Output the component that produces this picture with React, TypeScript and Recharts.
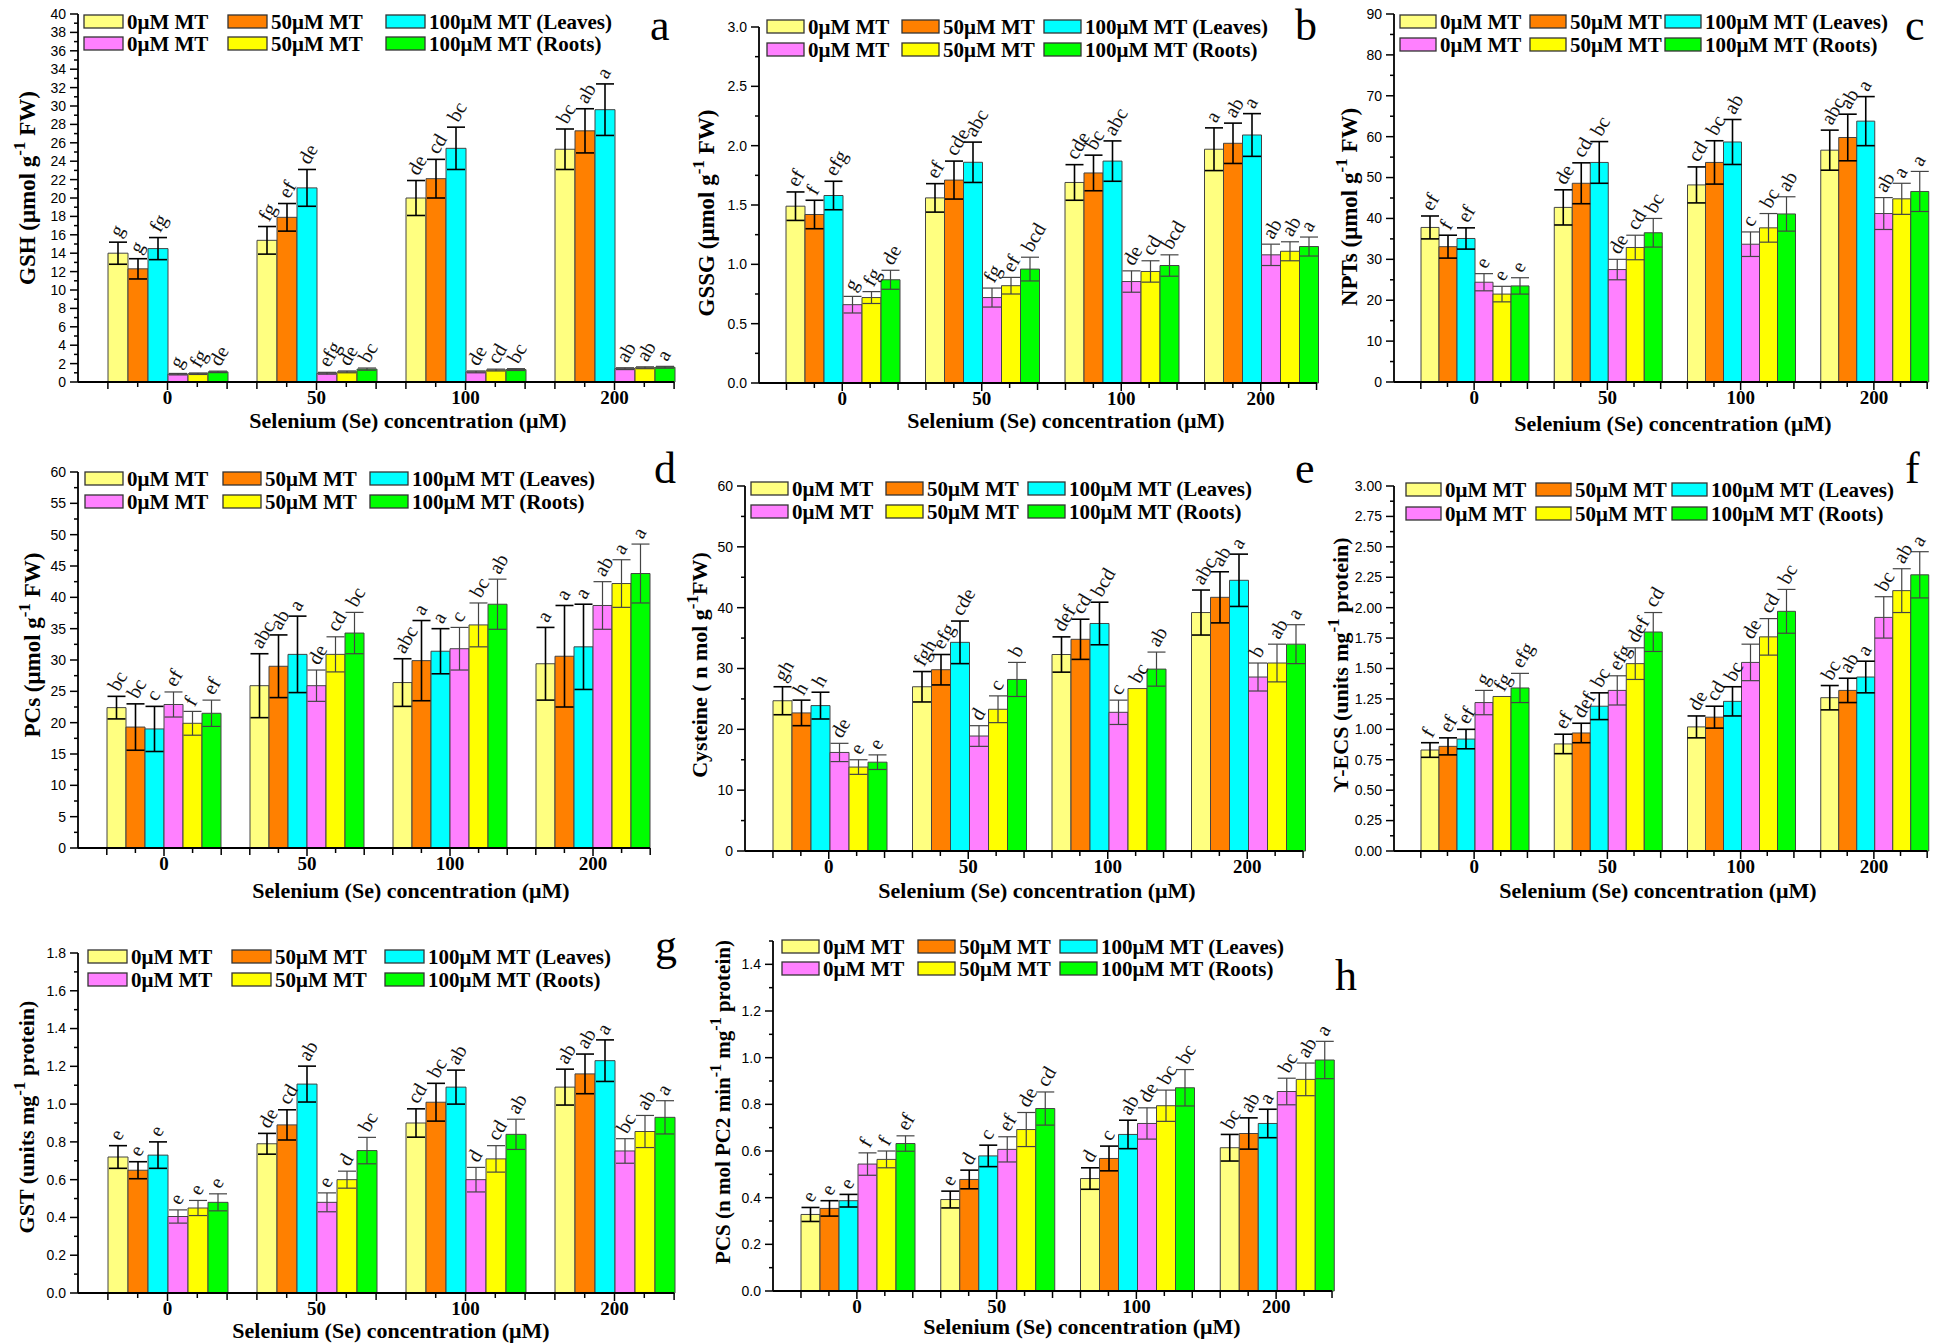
import React from "react";
import { BarChart, Bar, XAxis, YAxis, ErrorBar, LabelList } from "recharts";

const seLevels = ["0", "50", "100", "200"];
const seriesFill = ["#ffff80", "#ff8000", "#00ffff", "#ff80ff", "#ffff00", "#00ff00"];
const legendRow1 = ["0μM MT", "50μM MT", "100μM MT (Leaves)"];
const legendRow2 = ["0μM MT", "50μM MT", "100μM MT (Roots)"];

// rows: leaves 0/50/100 µM MT, roots 0/50/100 µM MT; columns: Se 0/50/100/200
const gshMeans = [
  [14.0, 15.4, 20.0, 25.3],
  [12.3, 17.9, 22.1, 27.3],
  [14.5, 21.1, 25.4, 29.6],
  [0.85, 0.95, 1.1, 1.45],
  [0.9, 1.1, 1.3, 1.55],
  [1.1, 1.4, 1.35, 1.6],
];
const gshErrors = [
  [1.2, 1.5, 1.9, 2.2],
  [1.1, 1.5, 2.1, 2.4],
  [1.2, 2.0, 2.3, 2.8],
  [0.08, 0.1, 0.1, 0.1],
  [0.08, 0.1, 0.1, 0.1],
  [0.08, 0.12, 0.1, 0.1],
];
const gshLetters = [
  ["g", "fg", "de", "bc"],
  ["g", "ef", "cd", "ab"],
  ["fg", "de", "bc", "a"],
  ["g", "efg", "de", "ab"],
  ["fg", "de", "cd", "ab"],
  ["de", "bc", "bc", "a"],
];

const gssgMeans = [
  [1.49, 1.56, 1.69, 1.97],
  [1.42, 1.71, 1.77, 2.02],
  [1.58, 1.86, 1.87, 2.09],
  [0.66, 0.72, 0.855, 1.08],
  [0.72, 0.82, 0.94, 1.11],
  [0.87, 0.96, 0.99, 1.15],
];
const gssgErrors = [
  [0.12, 0.12, 0.15, 0.18],
  [0.12, 0.16, 0.15, 0.17],
  [0.12, 0.17, 0.17, 0.18],
  [0.07, 0.08, 0.09, 0.09],
  [0.05, 0.07, 0.09, 0.08],
  [0.08, 0.1, 0.09, 0.08],
];
const gssgLetters = [
  ["ef", "ef", "cde", "a"],
  ["f", "cde", "bc", "ab"],
  ["efg", "abc", "abc", "a"],
  ["g", "fg", "de", "ab"],
  ["fg", "ef", "cd", "ab"],
  ["de", "bcd", "bcd", "a"],
];

const nptMeans = [
  [37.8, 42.7, 48.2, 56.7],
  [33.1, 48.6, 53.7, 59.8],
  [35.1, 53.7, 58.7, 63.8],
  [24.4, 27.5, 33.7, 41.2],
  [21.5, 32.9, 37.7, 44.8],
  [23.5, 36.5, 41.1, 46.6],
];
const nptErrors = [
  [2.8, 4.3, 4.4, 4.9],
  [2.8, 5.0, 5.3, 5.7],
  [2.6, 5.1, 5.5, 6.0],
  [2.1, 2.5, 3.0, 3.9],
  [1.9, 3.0, 3.5, 3.8],
  [2.0, 3.5, 4.2, 4.9],
];
const nptLetters = [
  ["ef", "de", "cd", "abc"],
  ["f", "cd", "bc", "ab"],
  ["ef", "bc", "ab", "a"],
  ["e", "de", "c", "ab"],
  ["e", "cd", "bc", "a"],
  ["e", "bc", "ab", "a"],
];

const pcsMeans = [
  [22.4, 25.9, 26.4, 29.4],
  [19.3, 29.0, 29.9, 30.6],
  [19.0, 30.9, 31.4, 32.1],
  [22.9, 25.9, 31.8, 38.7],
  [19.9, 30.9, 35.6, 42.2],
  [21.5, 34.3, 38.9, 43.8],
];
const pcsErrors = [
  [1.8, 5.1, 3.8, 5.8],
  [3.7, 5.0, 6.4, 8.1],
  [3.6, 6.1, 3.6, 6.8],
  [2.0, 2.5, 3.4, 3.8],
  [1.9, 2.8, 3.5, 3.8],
  [2.1, 3.3, 4.0, 4.7],
];
const pcsLetters = [
  ["bc", "abc", "abc", "a"],
  ["bc", "ab", "a", "a"],
  ["c", "a", "a", "a"],
  ["ef", "de", "c", "ab"],
  ["f", "cd", "bc", "a"],
  ["ef", "bc", "ab", "a"],
];

const cysMeans = [
  [24.7, 27.0, 32.3, 39.2],
  [22.7, 29.8, 34.8, 41.7],
  [23.9, 34.3, 37.4, 44.5],
  [16.2, 18.9, 22.8, 28.6],
  [13.8, 23.3, 26.7, 30.9],
  [14.6, 28.2, 29.9, 34.0],
];
const cysErrors = [
  [2.3, 2.5, 2.9, 3.7],
  [2.1, 2.5, 3.3, 4.2],
  [2.2, 3.5, 3.5, 4.3],
  [1.5, 1.7, 2.0, 2.3],
  [1.2, 2.2, 0, 3.1],
  [1.2, 2.8, 2.8, 3.2],
];
const cysLetters = [
  ["gh", "fgh", "def", "abc"],
  ["h", "efg", "cd", "ab"],
  ["h", "cde", "bcd", "a"],
  ["de", "d", "c", "b"],
  ["e", "c", "bc", "ab"],
  ["e", "b", "ab", "a"],
];

const ecsMeans = [
  [0.83, 0.88, 1.02, 1.26],
  [0.86, 0.97, 1.1, 1.32],
  [0.92, 1.19, 1.23, 1.43],
  [1.22, 1.32, 1.55, 1.92],
  [1.27, 1.54, 1.76, 2.14],
  [1.34, 1.8, 1.97, 2.27],
];
const ecsErrors = [
  [0.06, 0.08, 0.09, 0.1],
  [0.07, 0.08, 0.09, 0.1],
  [0.08, 0.11, 0.12, 0.13],
  [0.1, 0.12, 0.15, 0.17],
  [0, 0.13, 0.15, 0.18],
  [0.12, 0.16, 0.18, 0.19],
];
const ecsLetters = [
  ["f", "ef", "de", "bc"],
  ["ef", "def", "cd", "ab"],
  ["ef", "bc", "bc", "a"],
  ["g", "efg", "de", "bc"],
  ["fg", "def", "cd", "ab"],
  ["efg", "cd", "bc", "a"],
];

const gstMeans = [
  [0.72, 0.79, 0.9, 1.09],
  [0.65, 0.89, 1.01, 1.16],
  [0.73, 1.106, 1.09, 1.23],
  [0.405, 0.48, 0.6, 0.752],
  [0.45, 0.6, 0.71, 0.855],
  [0.48, 0.754, 0.84, 0.93],
];
const gstErrors = [
  [0.06, 0.055, 0.075, 0.095],
  [0.045, 0.08, 0.1, 0.105],
  [0.07, 0.095, 0.09, 0.11],
  [0.035, 0.05, 0.065, 0.065],
  [0.04, 0.045, 0.07, 0.085],
  [0.045, 0.07, 0.08, 0.088],
];
const gstLetters = [
  ["e", "de", "cd", "ab"],
  ["e", "cd", "bc", "ab"],
  ["e", "ab", "ab", "a"],
  ["e", "e", "d", "bc"],
  ["e", "d", "cd", "ab"],
  ["e", "bc", "ab", "a"],
];

const pcsEnzMeans = [
  [0.328, 0.392, 0.482, 0.614],
  [0.354, 0.478, 0.568, 0.675],
  [0.387, 0.579, 0.671, 0.718],
  [0.544, 0.607, 0.718, 0.855],
  [0.564, 0.692, 0.794, 0.907],
  [0.632, 0.782, 0.871, 0.99],
];
const pcsEnzErrors = [
  [0.03, 0.036, 0.046, 0.057],
  [0.033, 0.04, 0.053, 0.067],
  [0.027, 0.046, 0.061, 0.061],
  [0.048, 0.054, 0.067, 0.057],
  [0.036, 0.073, 0.067, 0.07],
  [0.033, 0.071, 0.078, 0.08],
];
const pcsEnzLetters = [
  ["e", "e", "d", "bc"],
  ["e", "d", "c", "ab"],
  ["e", "c", "ab", "a"],
  ["f", "ef", "de", "bc"],
  ["f", "de", "bc", "ab"],
  ["ef", "cd", "bc", "a"],
];

const SERIF = "'Liberation Serif', 'Times New Roman', serif";
const SANS = "'Liberation Sans', Arial, sans-serif";

type Seg = { t: string; sup?: boolean };
type PanelDef = {
  id: string;
  xL: number; xR: number; yT: number; yB: number; gap: number;
  yMax: number; major: number; minor: number; dec: number;
  means: number[][]; errs: number[][]; letters: string[][];
  yTitle: Seg[]; yTitleX: number; yTitleY: number; yTitleSize: number;
  xTitleX: number; xTitleY: number;
  legCols: number[]; legRows: number[]; legBox: number;
  tagX: number; tagY: number;
};

const panels: PanelDef[] = [
  {
    id: "a", xL: 78, xR: 674, yT: 14, yB: 382, gap: 30, yMax: 40, major: 2, minor: 1, dec: 0,
    means: gshMeans, errs: gshErrors, letters: gshLetters,
    yTitle: [{ t: "GSH (μmol g" }, { t: "-1", sup: true }, { t: " FW)" }], yTitleX: 27, yTitleY: 188, yTitleSize: 23,
    xTitleX: 408, xTitleY: 428, legCols: [84, 228, 386], legRows: [15, 37], legBox: 39, tagX: 650, tagY: 40,
  },
  {
    id: "b", xL: 759, xR: 1317, yT: 27, yB: 383, gap: 27, yMax: 3, major: 0.5, minor: 0.25, dec: 1,
    means: gssgMeans, errs: gssgErrors, letters: gssgLetters,
    yTitle: [{ t: "GSSG (μmol g" }, { t: "-1", sup: true }, { t: " FW)" }], yTitleX: 706, yTitleY: 213, yTitleSize: 23,
    xTitleX: 1066, xTitleY: 428, legCols: [767, 902, 1044], legRows: [20, 43], legBox: 37, tagX: 1295, tagY: 40,
  },
  {
    id: "c", xL: 1394, xR: 1927, yT: 14, yB: 382, gap: 27, yMax: 90, major: 10, minor: 5, dec: 0,
    means: nptMeans, errs: nptErrors, letters: nptLetters,
    yTitle: [{ t: "NPTs (μmol g" }, { t: "-1", sup: true }, { t: " FW)" }], yTitleX: 1349, yTitleY: 207, yTitleSize: 23,
    xTitleX: 1673, xTitleY: 431, legCols: [1400, 1530, 1665], legRows: [15, 38], legBox: 36, tagX: 1905, tagY: 40,
  },
  {
    id: "d", xL: 78, xR: 650, yT: 472, yB: 848, gap: 29, yMax: 60, major: 5, minor: 2.5, dec: 0,
    means: pcsMeans, errs: pcsErrors, letters: pcsLetters,
    yTitle: [{ t: "PCs (μmol g" }, { t: "-1", sup: true }, { t: " FW)" }], yTitleX: 32, yTitleY: 645, yTitleSize: 23,
    xTitleX: 411, xTitleY: 898, legCols: [85, 223, 370], legRows: [472, 495], legBox: 38, tagX: 654, tagY: 483,
  },
  {
    id: "e", xL: 745, xR: 1303, yT: 486, yB: 851, gap: 28, yMax: 60, major: 10, minor: 5, dec: 0,
    means: cysMeans, errs: cysErrors, letters: cysLetters,
    yTitle: [{ t: "Cysteine ( n mol g" }, { t: "-1", sup: true }, { t: "FW)" }], yTitleX: 700, yTitleY: 665, yTitleSize: 22,
    xTitleX: 1037, xTitleY: 898, legCols: [751, 886, 1028], legRows: [482, 505], legBox: 37, tagX: 1295, tagY: 483,
  },
  {
    id: "f", xL: 1394, xR: 1927, yT: 486, yB: 851, gap: 27, yMax: 3, major: 0.25, minor: 0.125, dec: 2,
    means: ecsMeans, errs: ecsErrors, letters: ecsLetters,
    yTitle: [{ t: "ϒ-ECS (units mg" }, { t: "-1", sup: true }, { t: " protein)" }], yTitleX: 1341, yTitleY: 665, yTitleSize: 22,
    xTitleX: 1658, xTitleY: 898, legCols: [1406, 1536, 1672], legRows: [483, 507], legBox: 35, tagX: 1905, tagY: 483,
  },
  {
    id: "g", xL: 78, xR: 674, yT: 953, yB: 1293, gap: 30, yMax: 1.8, major: 0.2, minor: 0.1, dec: 1,
    means: gstMeans, errs: gstErrors, letters: gstLetters,
    yTitle: [{ t: "GST (units mg" }, { t: "-1", sup: true }, { t: " protein)" }], yTitleX: 27, yTitleY: 1117, yTitleSize: 22,
    xTitleX: 391, xTitleY: 1338, legCols: [88, 232, 385], legRows: [950, 973], legBox: 39, tagX: 655, tagY: 960,
  },
  {
    id: "h", xL: 773, xR: 1332, yT: 941, yB: 1291, gap: 28, yMax: 1.5, major: 0.2, minor: 0.1, dec: 1,
    means: pcsEnzMeans, errs: pcsEnzErrors, letters: pcsEnzLetters,
    yTitle: [{ t: "PCS (n mol PC2 min" }, { t: "-1", sup: true }, { t: " mg" }, { t: "-1", sup: true }, { t: " protein)" }],
    yTitleX: 723, yTitleY: 1102, yTitleSize: 21,
    xTitleX: 1082, xTitleY: 1334, legCols: [782, 918, 1060], legRows: [940, 962], legBox: 37, tagX: 1335, tagY: 990,
  },
];

// chart box around each plot area; the axes take part of the margin
const YW = 50, XH = 32;
const ML = 60, MT = 24, MR = 24, MB = 40;

const XTick = (props: any) => {
  const { x, y, payload, band } = props;
  const s = band / 5;
  return (
    <g>
      {[-2, -1, 0, 1, 2].map((k) => (
        <line key={k} x1={x + k * s} x2={x + k * s} y1={y} y2={y + (k === 0 ? 8 : Math.abs(k) === 2 ? 7 : 5)} stroke="#000" strokeWidth={1.5} />
      ))}
      <text x={x} y={y + 22} textAnchor="middle" fontFamily={SERIF} fontWeight="bold" fontSize={19} fill="#000">
        {payload.value}
      </text>
    </g>
  );
};

const YTick = (props: any) => {
  const { x, y, payload, major, dec } = props;
  const v = Number(payload.value);
  const isMajor = Math.abs(v / major - Math.round(v / major)) < 1e-6;
  return (
    <g>
      <line x1={x} x2={x - (isMajor ? 8 : 4)} y1={y} y2={y} stroke="#000" strokeWidth={1.5} />
      {isMajor && (
        <text x={x - 12} y={y} dy="0.35em" textAnchor="end" fontFamily={SANS} fontSize={14} fill="#000">
          {v.toFixed(dec)}
        </text>
      )}
    </g>
  );
};

// significance letter above the error bar, rotated like the original
const letterLabel = (letters: string[], errs: number[]) => (props: any) => {
  const { x, y, width, height, value, index, payload } = props;
  let i = typeof index === "number" ? index : -1;
  if (i < 0 && payload) i = seLevels.indexOf(String(payload.name));
  if (i < 0 || !value) return null;
  const errPx = (errs[i] * Number(height)) / Number(value);
  const tx = Number(x) + Number(width) / 2 + 2;
  const ty = Number(y) - errPx - 4;
  return (
    <text x={tx} y={ty} transform={`rotate(-60 ${tx} ${ty})`} fontFamily={SERIF} fontSize={20} fill="#111">
      {letters[i]}
    </text>
  );
};

function GroupedPanel({ p }: { p: PanelDef }) {
  const w = p.xR - p.xL;
  const h = p.yB - p.yT;
  const band = w / 4;
  const rows = seLevels.map((name, i) => {
    const r: Record<string, any> = { name };
    p.means.forEach((s, k) => {
      r[`v${k}`] = s[i];
      r[`e${k}`] = p.errs[k][i];
    });
    return r;
  });
  const ticks: number[] = [];
  const n = Math.round(p.yMax / p.minor);
  for (let i = 0; i <= n; i++) ticks.push(+(i * p.minor).toFixed(4));

  return (
    <div style={{ position: "absolute", left: p.xL - ML, top: p.yT - MT }}>
      <BarChart
        width={w + ML + MR}
        height={h + MT + MB}
        data={rows}
        margin={{ top: MT, right: MR, bottom: MB - XH, left: ML - YW }}
        barCategoryGap={p.gap / 2}
        barGap={0}
      >
        <XAxis
          dataKey="name"
          height={XH}
          interval={0}
          padding={{ left: p.gap / 2, right: -p.gap / 2 }}
          tickSize={0}
          tickMargin={0}
          tickLine={false}
          axisLine={{ stroke: "#000", strokeWidth: 1.8 }}
          tick={<XTick band={band} />}
        />
        <YAxis
          type="number"
          domain={[0, p.yMax]}
          ticks={ticks}
          interval={0}
          width={YW}
          tickSize={0}
          tickMargin={0}
          tickLine={false}
          axisLine={{ stroke: "#000", strokeWidth: 1.8 }}
          tick={<YTick major={p.major} dec={p.dec} />}
        />
        {p.means.map((_, k) => (
          <Bar key={k} dataKey={`v${k}`} fill={seriesFill[k]} stroke="#444" strokeWidth={1} isAnimationActive={false}>
            <ErrorBar
              dataKey={`e${k}`}
              width={9}
              stroke={k < 3 ? "#000" : "#444"}
              strokeWidth={k < 3 ? 1.6 : 1.2}
              direction="y"
              isAnimationActive={false}
            />
            <LabelList dataKey={`v${k}`} content={letterLabel(p.letters[k], p.errs[k])} />
          </Bar>
        ))}
      </BarChart>
    </div>
  );
}

function PanelText({ p }: { p: PanelDef }) {
  const fs = p.yTitleSize;
  const tx = p.yTitleX + fs * 0.33;
  return (
    <g>
      {[legendRow1, legendRow2].map((names, r) =>
        names.map((name, c) => {
          const bx = p.legCols[c];
          const by = p.legRows[r];
          return (
            <g key={`${r}-${c}`}>
              <rect x={bx} y={by} width={p.legBox} height={13} fill={seriesFill[r * 3 + c]} stroke="#333" strokeWidth={1.3} />
              <text x={bx + p.legBox + 4} y={by + 6.5} dy="0.35em" fontFamily={SERIF} fontWeight="bold" fontSize={21} fill="#000">
                {name}
              </text>
            </g>
          );
        })
      )}
      <text x={p.tagX} y={p.tagY} fontFamily={SERIF} fontSize={44} fill="#000">
        {p.id}
      </text>
      <text
        x={tx}
        y={p.yTitleY}
        transform={`rotate(-90 ${tx} ${p.yTitleY})`}
        textAnchor="middle"
        fontFamily={SERIF}
        fontWeight="bold"
        fontSize={fs}
        fill="#000"
      >
        {p.yTitle.map((s, i) => {
          const prevSup = i > 0 && p.yTitle[i - 1].sup;
          const lift = Math.round(fs * 0.42);
          return (
            <tspan key={i} dy={s.sup ? -lift : prevSup ? lift : 0} fontSize={s.sup ? Math.round(fs * 0.75) : fs}>
              {s.t}
            </tspan>
          );
        })}
      </text>
      <text x={p.xTitleX} y={p.xTitleY} textAnchor="middle" fontFamily={SERIF} fontWeight="bold" fontSize={22} fill="#000">
        Selenium (Se) concentration (μM)
      </text>
    </g>
  );
}

export default function App() {
  return (
    <div style={{ position: "absolute", left: 0, top: 0, width: 1946, height: 1343, background: "#fff", overflow: "hidden" }}>
      {panels.map((p) => (
        <GroupedPanel key={p.id} p={p} />
      ))}
      <svg width={1946} height={1343} style={{ position: "absolute", left: 0, top: 0, pointerEvents: "none" }}>
        {panels.map((p) => (
          <PanelText key={p.id} p={p} />
        ))}
      </svg>
    </div>
  );
}
